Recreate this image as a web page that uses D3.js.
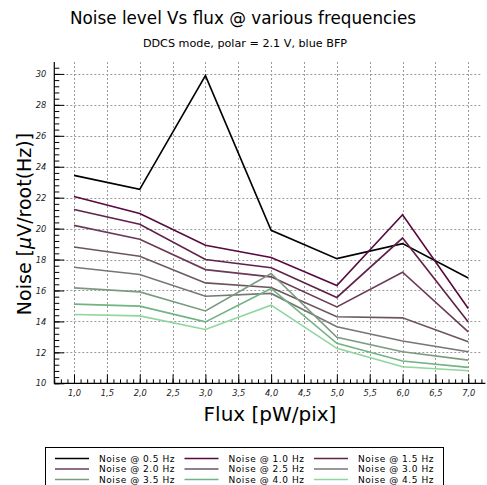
<!DOCTYPE html>
<html><head><meta charset="utf-8">
<script src="https://cdn.jsdelivr.net/npm/d3@7"></script>
<style>body{margin:0;background:#fff}svg{display:block}text{font-family:"DejaVu Sans",sans-serif}</style>
</head><body><svg id="c" width="487" height="485"></svg>
<script>
const flux = [1, 2, 3, 4, 5, 6, 7];
const seriesNames = ["Noise @ 0.5 Hz","Noise @ 1.0 Hz","Noise @ 1.5 Hz","Noise @ 2.0 Hz","Noise @ 2.5 Hz","Noise @ 3.0 Hz","Noise @ 3.5 Hz","Noise @ 4.0 Hz","Noise @ 4.5 Hz"];
const n05 = [23.44, 22.54, 29.89, 19.89, 18.06, 19.03, 16.81];
const n10 = [22.08, 20.97, 18.92, 18.13, 16.32, 20.90, 14.84];
const n15 = [21.23, 20.28, 18.00, 17.47, 15.55, 19.39, 13.97];
const n20 = [20.21, 19.31, 17.35, 16.88, 14.94, 17.18, 13.33];
const n25 = [18.81, 18.21, 16.49, 16.19, 14.30, 14.23, 12.69];
const n30 = [17.50, 17.03, 15.63, 15.81, 13.65, 12.73, 12.04];
const n35 = [16.17, 15.91, 14.68, 17.10, 12.97, 12.04, 11.50];
const n40 = [15.12, 14.99, 13.97, 16.13, 12.58, 11.44, 11.03];
const n45 = [14.45, 14.36, 13.48, 15.05, 12.26, 11.07, 10.81];
const values = [n05, n10, n15, n20, n25, n30, n35, n40, n45];
const colors = ["#000000","#560a3e","#5f2148","#6b3a57","#6b5660","#767676","#7b9a7f","#72b383","#8fd69c"];
const yTicks = [10, 12, 14, 16, 18, 20, 22, 24, 26, 28, 30];
const xTicks = [1.0, 1.5, 2.0, 2.5, 3.0, 3.5, 4.0, 4.5, 5.0, 5.5, 6.0, 6.5, 7.0];

const svg = d3.select("#c");
const L = 54.3, R = 481.4, T = 62, B = 383.3;
const x = d3.scaleLinear().domain([0.7, 7.2]).range([L, R]);
const y = d3.scaleLinear().domain([10, 30.77]).range([B, T]);

// grid
const grid = svg.append("g").attr("stroke", "#9a9a9a").attr("stroke-width", 1).attr("stroke-dasharray", "2,2");
grid.selectAll(".gx").data(xTicks).join("line")
  .attr("x1", d => Math.round(x(d)) + 0.5).attr("x2", d => Math.round(x(d)) + 0.5)
  .attr("y1", T).attr("y2", B);
grid.selectAll(".gy").data(yTicks.slice(1)).join("line")
  .attr("y1", d => Math.round(y(d)) + 0.5).attr("y2", d => Math.round(y(d)) + 0.5)
  .attr("x1", L).attr("x2", R);

// lines
const line = d3.line().x((d, i) => x(flux[i])).y(d => y(d));
svg.append("g").selectAll("path").data(values).join("path")
  .attr("d", line).attr("fill", "none")
  .attr("stroke", (d, i) => colors[i]).attr("stroke-width", 1.6)
  .attr("stroke-linejoin", "miter");

// axes
const xMinor = d3.range(7, 73).map(v => v / 10);
const yMinor = d3.range(0, 52).map(v => 10 + v * 0.4).filter(v => v <= 30.77);
const xAxis = svg.append("g").attr("transform", `translate(0,${B})`)
  .call(d3.axisBottom(x).tickValues(xMinor).tickSize(-4).tickFormat(""));
xAxis.select(".domain").remove();
const xAxisM = svg.append("g").attr("transform", `translate(0,${B})`)
  .call(d3.axisBottom(x).tickValues(xTicks).tickSize(-9).tickPadding(7)
    .tickFormat(d => d3.format(".1f")(d).replace(".", ",")));
xAxisM.select(".domain").remove();
xAxisM.selectAll("text").attr("font-size", 8.3).attr("font-style", "italic").attr("fill", "#222");

const yAxis = svg.append("g").attr("transform", `translate(${L},0)`)
  .call(d3.axisLeft(y).tickValues(yMinor).tickSize(-5).tickFormat(""));
yAxis.select(".domain").remove();
const yAxisM = svg.append("g").attr("transform", `translate(${L},0)`)
  .call(d3.axisLeft(y).tickValues(yTicks).tickSize(-10).tickPadding(8)
    .tickFormat(d3.format("d")));
yAxisM.select(".domain").remove();
yAxisM.selectAll("text").attr("font-size", 8.3).attr("font-style", "italic").attr("fill", "#222");
svg.selectAll(".tick line").attr("stroke", "#000").attr("stroke-width", 1);

svg.append("line").attr("x1", L).attr("x2", L).attr("y1", T).attr("y2", B + 0.5).attr("stroke", "#000").attr("stroke-width", 1.2);
svg.append("line").attr("x1", L).attr("x2", R + 4).attr("y1", B).attr("y2", B).attr("stroke", "#000").attr("stroke-width", 1.2);

// titles
svg.append("text").attr("x", 243).attr("y", 24).attr("text-anchor", "middle")
  .attr("font-size", 16.8).text("Noise level Vs flux @ various frequencies");
svg.append("text").attr("x", 245).attr("y", 47).attr("text-anchor", "middle")
  .attr("font-size", 11.2).text("DDCS mode, polar = 2.1 V, blue BFP");
svg.append("text").attr("x", 270).attr("y", 421).attr("text-anchor", "middle")
  .attr("font-size", 20).text("Flux [pW/pix]");
const yl = svg.append("text").attr("transform", "translate(31,224) rotate(-90)")
  .attr("text-anchor", "middle").attr("font-size", 19);
yl.append("tspan").text("Noise [");
yl.append("tspan").attr("font-style", "italic").text("μ");
yl.append("tspan").text("V/root(Hz)]");

// legend
const lg = svg.append("g");
lg.append("rect").attr("x", 45.5).attr("y", 447.5).attr("width", 398).attr("height", 45)
  .attr("fill", "#fff").attr("stroke", "#000").attr("stroke-width", 1);
seriesNames.forEach((nm, i) => {
  const col = i % 3, row = Math.floor(i / 3);
  const lx = 55 + col * 129.5, ly = 458.5 + row * 10.5;
  lg.append("line").attr("x1", lx).attr("x2", lx + 34).attr("y1", ly).attr("y2", ly)
    .attr("stroke", colors[i]).attr("stroke-width", 1.6);
  lg.append("text").attr("x", lx + 44).attr("y", ly + 3.4).attr("font-size", 9)
    .attr("letter-spacing", 0.55).text(nm);
});
</script></body></html>
